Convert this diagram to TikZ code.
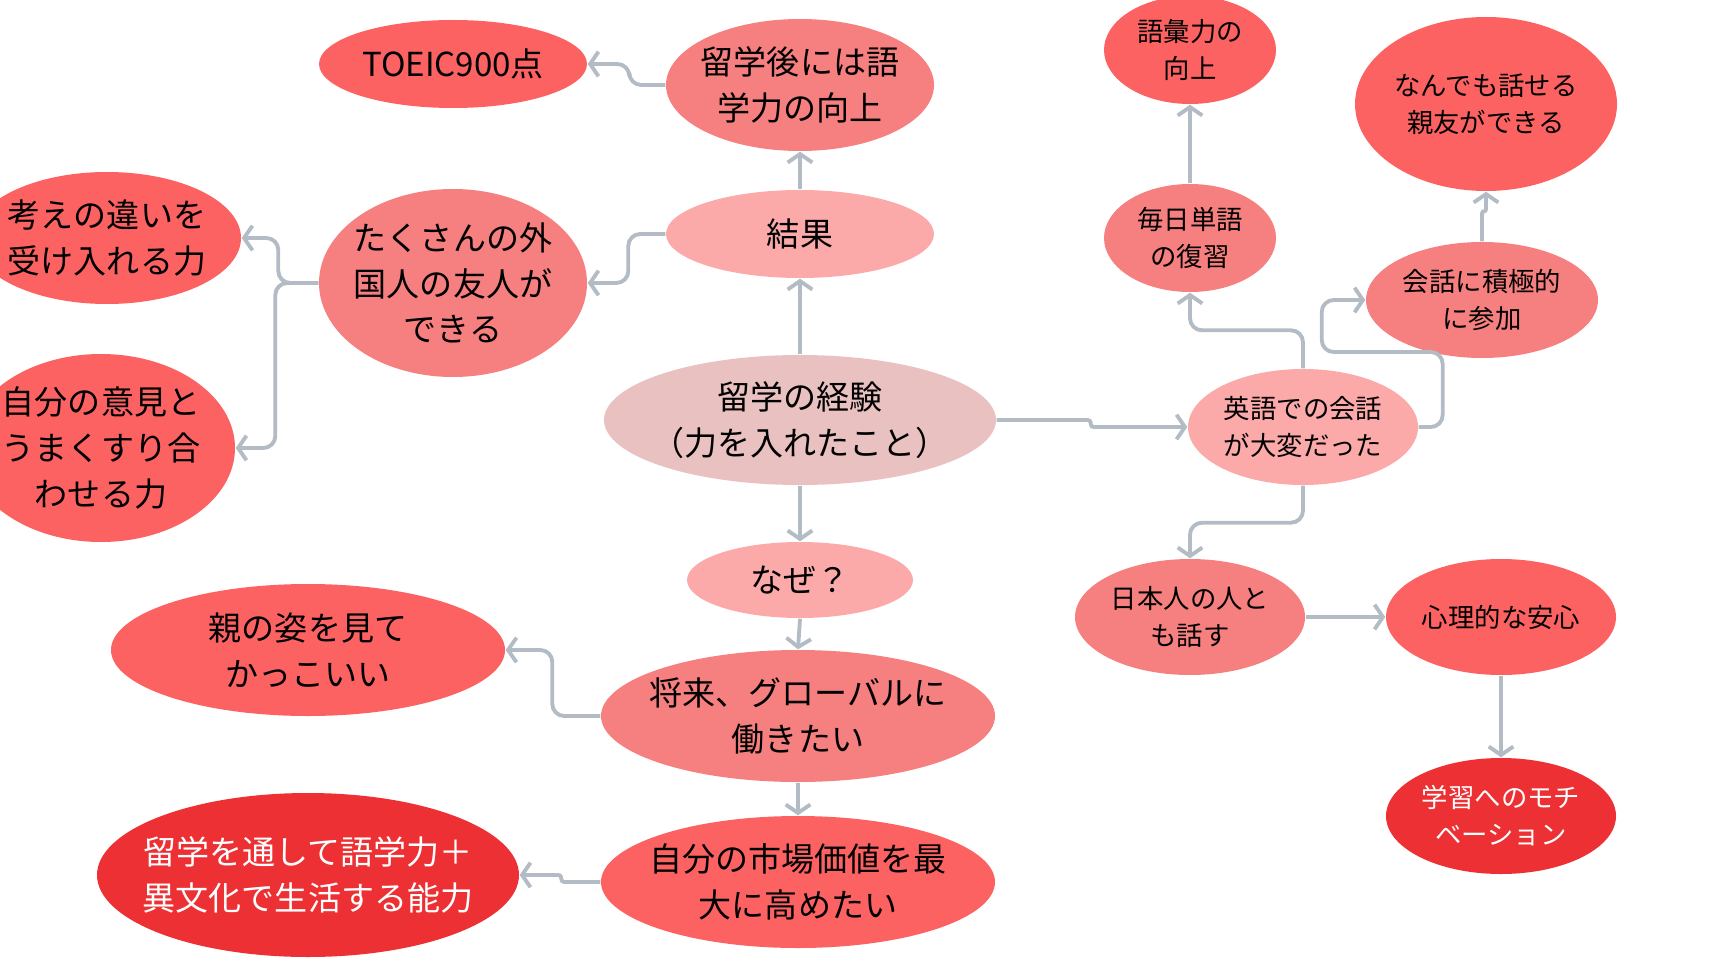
\documentclass[tikz,border=0pt]{standalone}
\usepackage{fontspec}
\setmainfont{Noto Sans CJK JP}
\usepackage{tikz}
\usetikzlibrary{arrows.meta,shapes.geometric}
\definecolor{palepink}{HTML}{E9C1C1}
\definecolor{lightpink}{HTML}{FCA9AA}
\definecolor{salmon}{HTML}{F67F7F}
\definecolor{coral}{HTML}{FD6262}
\definecolor{deepred}{HTML}{EC3033}
\definecolor{linkgray}{HTML}{B3BCC4}

\begin{document}
\begin{tikzpicture}[x=0.1mm,y=-0.1mm,
		bubble/.style={ellipse,inner sep=-1cm,align=center,text=black,font=\fontsize{9.4}{13}\selectfont},
		small/.style={font=\fontsize{7.5}{10.5}\selectfont},
		link/.style={draw=linkgray,line width=1.1pt,rounded corners=1.2mm,-{Straight Barb[length=2.4pt,width=7pt]}}]
		\useasboundingbox (0,0) rectangle (1728,972);
		%centre
		\node[bubble,fill=palepink,minimum width=3.92cm,minimum height=1.30cm] (keiken) at (800,420) {留学の経験\\（力を入れたこと）};
		
		%results
		\node[bubble,fill=lightpink,minimum width=2.68cm,minimum height=0.88cm] (kekka) at (800,234) {結果};
		\node[bubble,fill=salmon,minimum width=2.68cm,minimum height=1.32cm] (goga) at (800,85) {留学後には語\\学力の向上};
		\node[bubble,fill=coral,minimum width=2.68cm,minimum height=0.88cm] (toeic) at (453,64) {TOEIC900点};
		\node[bubble,fill=salmon,minimum width=2.68cm,minimum height=1.88cm] (tomo) at (453,283) {たくさんの外\\国人の友人が\\できる};
		\node[bubble,fill=coral,minimum width=2.68cm,minimum height=1.32cm] (kangae) at (107,238) {考えの違いを\\受け入れる力};
		\node[bubble,fill=coral,minimum width=2.68cm,minimum height=1.88cm] (iken) at (101,448) {自分の意見と\\うまくすり合\\わせる力};
		
		%reasons
		\node[bubble,fill=lightpink,minimum width=2.26cm,minimum height=0.76cm] (naze) at (800,580) {なぜ？};
		\node[bubble,fill=salmon,minimum width=3.94cm,minimum height=1.32cm] (shorai) at (798,716) {将来、グローバルに\\働きたい};
		\node[bubble,fill=coral,minimum width=3.94cm,minimum height=1.32cm] (oya) at (308,650) {親の姿を見て\\かっこいい};
		\node[bubble,fill=coral,minimum width=3.94cm,minimum height=1.32cm] (kachi) at (798,882) {自分の市場価値を最\\大に高めたい};
		\node[bubble,fill=deepred,text=white,minimum width=4.22cm,minimum height=1.64cm] (nouryoku) at (308,875) {留学を通して語学力＋\\異文化で生活する能力};
		
		%hard part
		\node[bubble,small,fill=lightpink,minimum width=2.30cm,minimum height=1.16cm] (eigo) at (1303,427) {英語での会話\\が大変だった};
		\node[bubble,small,fill=salmon,minimum width=1.72cm,minimum height=1.08cm] (tango) at (1190,238) {毎日単語\\の復習};
		\node[bubble,small,fill=coral,minimum width=1.72cm,minimum height=1.08cm] (goi) at (1190,50) {語彙力の\\向上};
		\node[bubble,small,fill=salmon,minimum width=2.32cm,minimum height=1.16cm] (kaiwa) at (1482,300) {会話に積極的\\に参加};
		\node[bubble,small,fill=coral,minimum width=2.62cm,minimum height=1.74cm] (shinyu) at (1486,104) {なんでも話せる\\親友ができる};
		\node[bubble,small,fill=salmon,minimum width=2.30cm,minimum height=1.16cm] (nihon) at (1190,617) {日本人の人と\\も話す};
		\node[bubble,small,fill=coral,minimum width=2.30cm,minimum height=1.16cm] (shinri) at (1501,617) {心理的な安心};
		\node[bubble,small,fill=deepred,text=white,minimum width=2.30cm,minimum height=1.16cm] (gakushu) at (1501,816) {学習へのモチ\\ベーション};
		
		%links up
		\draw[link] (keiken.north) -- (kekka.south);
		\draw[link] (kekka.north) -- (goga.south);
		\draw[link] (goga.west) -- ++(-36,0) |- (toeic.east);
		\draw[link] (kekka.west) -- ++(-37,0) |- (tomo.east);
		\draw[link] (tomo.west) -- ++(-40,0) |- (kangae.east);
		\draw[link] (tomo.west) -- ++(-43,0) |- (iken.east);
		
		%links down
		\draw[link] (keiken.south) -- (naze.north);
		\draw[link] (naze.south) -- (shorai.north);
		\draw[link] (shorai.west) -- ++(-48,0) |- (oya.east);
		\draw[link] (shorai.south) -- (kachi.north);
		\draw[link,rounded corners=0.3mm] (kachi.west) -- ++(-39,0) |- (nouryoku.east);
		
		%links right
		\draw[link,rounded corners=0.3mm] (keiken.east) -- ++(94,0) |- (eigo.west);
		\draw[link] (eigo.north) -- ++(0,-38) -| (tango.south);
		\draw[link] (tango.north) -- (goi.south);
		\draw[link] (eigo.east) -- ++(24,0) |- ++(-121,-75) |- (kaiwa.west);
		\draw[link,rounded corners=0.2mm] (kaiwa.north) -- ++(0,-30) -| (shinyu.south);
		\draw[link] (eigo.south) -- ++(0,37) -| (nihon.north);
		\draw[link] (nihon.east) -- (shinri.west);
		\draw[link] (shinri.south) -- (gakushu.north);
		
\end{tikzpicture}
\end{document}
